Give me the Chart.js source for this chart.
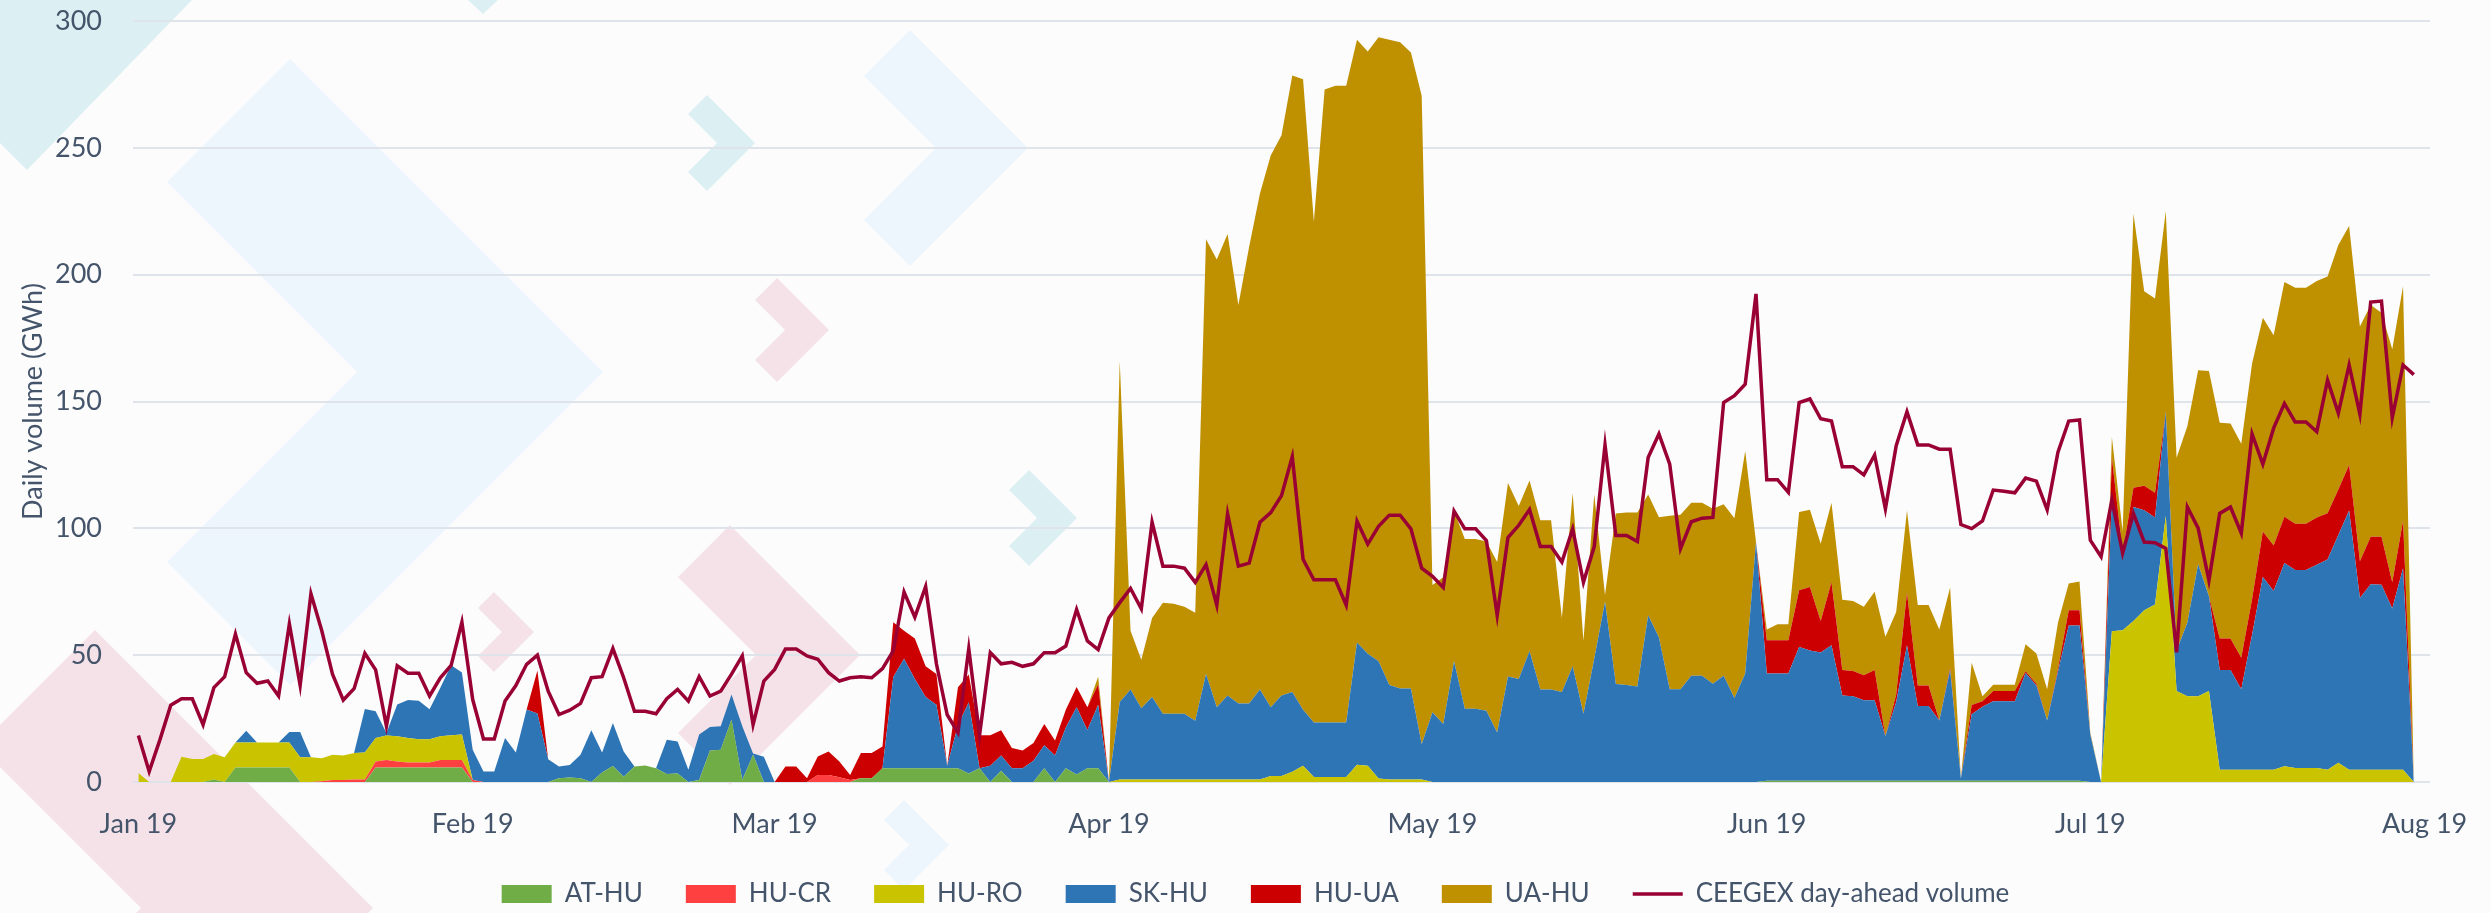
<!DOCTYPE html>
<html><head><meta charset="utf-8">
<script src="https://cdn.jsdelivr.net/npm/chart.js@4.4.1/dist/chart.umd.min.js"></script>
<style>
html,body{margin:0;padding:0;background:#fcfcfc;}
#wrap{position:relative;width:2491px;height:913px;overflow:hidden;background:#fcfcfc;}
#bg{position:absolute;left:0;top:0;}
#c{position:absolute;left:0;top:0;}
</style></head><body>
<div id="wrap">
<svg id="bg" width="2491" height="913" xmlns="http://www.w3.org/2000/svg"></svg>
<canvas id="c" width="2491" height="913"></canvas>
</div>
<script>
// ---- data (daily, 1 Jan 2019 .. 31 Jul 2019) ----
const monthTickDays = [0,31,59,90,120,151,181,212];
const monthTickLabels = ['Jan 19','Feb 19','Mar 19','Apr 19','May 19','Jun 19','Jul 19','Aug 19'];
const seriesNames = ['AT-HU','HU-CR','HU-RO','SK-HU','HU-UA','UA-HU','CEEGEX day-ahead volume'];

const AT_HU = [
0,0,0,0,0,0,0,1,0,5.7,
5.7,5.7,5.7,5.7,5.7,0,0,0,0,0,
0,0,5.7,5.7,5.7,5.7,5.7,5.7,5.7,5.7,
5.7,0,0,0,0,0,0,0,0,1.5,
1.8,1.5,0,3.7,6.3,2.1,6.1,6.5,5.4,3.2,
3.4,0,0.8,12.4,12.7,24.6,0.8,10.7,0,0,
0,0,0,0,0,0,0,1.5,1.5,5.4,
5.4,5.4,5.4,5.4,5.4,5.4,5.4,3.4,5.4,0,
4.4,0,0,0,5.4,0,5.4,3,5.4,5.4,
0,0,0,0,0,0,0,0,0,0,
0,0,0,0,0,0,0,0,0,0,
0,0,0,0,0,0,0,0,0,0,
0,0,0,0,0,0,0,0,0,0,
0,0,0,0,0,0,0,0,0,0,
0,0,0,0,0,0,0,0,0,0,
0,0.5,0.5,0.5,0.5,0.5,0.5,0.5,0.5,0.5,
0.5,0.5,0.5,0.5,0.5,0.5,0.5,0.5,0.5,0.5,
0.5,0.5,0.5,0.5,0.5,0.5,0.5,0.5,0.5,0.5,
0.5,0,0,0,0,0,0,0,0,0,
0,0,0,0,0,0,0,0,0,0,
0,0,0,0,0,0,0,0,0,0,
0,0];

const HU_CR = [
0,0,0,0,0,0,0,0,0,0,
0,0,0,0,0,0,0,0.3,0.8,0.8,
1,1,2.4,3,2.4,2,2,2,3,3,
3,0.8,0,0,0,0,0,0,0,0,
0,0,0,0,0,0,0,0,0,0,
0,0,0,0,0,0,0,0,0,0,
0,0,0,2.8,2.8,1.9,0.8,0,0,0,
0,0,0,0,0,0,0,0,0,0,
0,0,0,0,0,0,0,0,0,0,
0,0,0,0,0,0,0,0,0,0,
0,0,0,0,0,0,0,0,0,0,
0,0,0,0,0,0,0,0,0,0,
0,0,0,0,0,0,0,0,0,0,
0,0,0,0,0,0,0,0,0,0,
0,0,0,0,0,0,0,0,0,0,
0,0,0,0,0,0,0,0,0,0,
0,0,0,0,0,0,0,0,0,0,
0,0,0,0,0,0,0,0,0,0,
0,0,0,0,0,0,0,0,0,0,
0,0,0,0,0,0,0,0,0,0,
0,0,0,0,0,0,0,0,0,0,
0,0];

const HU_RO = [
3.5,0,0,0,10,9.1,9.1,10,9.8,9.9,
9.9,9.9,9.9,9.9,9.9,9.8,9.8,9.1,9.9,9.6,
10.4,10.6,9.2,9.6,9.9,9.6,9.2,9.2,9.3,9.7,
10,0,0,0,0,0,0,0,0,0,
0,0,0,0,0,0,0,0,0,0,
0,0,0,0,0,0,0,0,0,0,
0,0,0,0,0,0,0,0,0,0,
0,0,0,0,0,0,0,0,0,0,
0,0,0,0,0,0,0,0,0,0,
0,1,1,1,1,1,1,1,1,1,
1,1,1,1,1,2.4,2.4,4,6.4,2,
2,2,2,6.8,6.4,1.4,1,1,1,1,
0,0,0,0,0,0,0,0,0,0,
0,0,0,0,0,0,0,0,0,0,
0,0,0,0,0,0,0,0,0,0,
0,0,0,0,0,0,0,0,0,0,
0,0,0,0,0,0,0,0,0,0,
0,0,0,0,0,0,0,0,0,0,
0,0,0,59.4,59.8,63.5,67.7,70,105,35.9,
33.8,33.8,35.9,4.8,4.8,4.8,4.8,4.8,4.8,6.2,
5.5,5.5,5.5,4.8,7.6,4.8,4.8,4.8,4.8,4.8,
4.8,0];

const SK_HU = [
0,0,0,0,0,0,0,0,0,0,
4.6,0,0,0,4.1,9.9,0,0,0,0,
0,17.2,10.6,1,12.6,15,15.1,11.8,19.2,27.6,
24.5,11.9,4.1,4.1,17.3,11.6,28.6,27,9,4.6,
4.9,9.2,20.4,7.9,17,9.9,0,0,0,13.5,
12.6,4.8,17.9,9.3,9.3,9.9,21.2,0.5,10,0,
0,0,0,0,0,0,0,0,0,0,
36,43.2,35.2,28.1,25.1,1,17,28,0,6.4,
6,5.4,5.4,8.4,9.1,10.4,16.1,26.5,15.1,25.1,
0,30.5,35.5,28.1,32.5,25.9,25.9,25.9,23.1,41.6,
28.5,33.1,29.9,29.9,35.5,27.1,31.7,31.5,22.1,21.5,
21.5,21.5,21.5,48.2,44.2,46.2,37.2,35.9,35.9,13.9,
27.5,22.9,47.6,28.9,28.9,28.1,19.5,41.6,40.6,51.6,
36.5,36.5,35.5,45.6,26.9,48.6,71.1,38.6,38.2,37.6,
65.7,57,36.6,36.6,41.9,41.9,38.7,41.9,33.1,42.8,
94.6,42.3,42.3,42.3,52.7,51.3,50.6,53.4,33.6,33.3,
31.7,31.7,17.5,31,53.4,29.5,29.5,23.7,43.7,0.9,
26.2,29.2,31.3,31.3,31.3,42.5,37.5,23.7,43,61.2,
61.2,18.6,0,53.2,27.9,44.9,39.4,34.3,41,15.9,
29,52,37.3,39.4,39.4,31.8,53.2,76,70.5,80.1,
78.1,78.1,80.1,82.9,89.8,102.2,67.7,73.2,73,63.6,
79.5,0];

const HU_UA = [
0,0,0,0,0,0,0,0,0,0,
0,0,0,0,0,0,0,0,0,0,
0,0,0,0,0,0,0,0,0,0,
0,0,0,0,0,0,0,17,0,0,
0,0,0,0,0,0,0,0,0,0,
0,0,0,0,0,0,0,0,0,0,
6.1,6.1,1.5,7.3,9.2,6.2,2,9.9,9.9,8.6,
21.6,11,16,12.1,12.1,0,15,11,13,12,
10,8,7,7,8.4,6,7,8,9,8,
0,0,0,0,0,0,0,0,0,0,
0,0,0,0,0,0,0,0,0,0,
0,0,0,0,0,0,0,0,0,0,
0,0,0,0,0,0,0,0,0,0,
0,0,0,0,0,0,0,0,0,0,
0,0,0,0,0,0,0,0,0,0,
0,13.1,13.1,13.1,22.4,25.1,12.4,24.8,10.1,10,
9.9,12,0,3,20.7,8,8,0,0.7,0,
3.7,2.1,4.1,4.1,4.1,0.7,0.7,0,1,6,
6,0,0,15.2,2.8,7.6,9.7,9.7,0,0,
0,0,0,12.4,12.4,12.4,14,18,17.9,18.3,
18.2,18.2,18.7,18.2,17.9,18,14.5,18.7,18.9,10.3,
18.6,0];

const UA_HU = [
0,0,0,0,0,0,0,0,0,0,
0,0,0,0,0,0,0,0,0,0,
0,0,0,0,0,0,0,0,0,0,
0,0,0,0,0,0,0,0,0,0,
0,0,0,0,0,0,0,0,0,0,
0,0,0,0,0,0,0,0,0,0,
0,0,0,0,0,0,0,0,0,0,
0,0,0,0,0,0,0,0,0,0,
0,0,0,0,0,0,0,0,0,3,
0,134.5,23.1,19.1,31.2,43.8,43.4,42.2,42.6,171.4,
176.5,181.9,157.1,180.1,195.5,217.5,220.9,243,248.5,197.5,
249.5,251,251,237.6,237.4,246,254.4,254.7,250.7,255.6,
50.2,57.8,59.2,66.9,66.9,66.7,67.2,76.3,68.2,67.3,
66.7,66.7,29.2,68.3,28.7,64.7,2.6,67.2,68,68.6,
47.6,47.4,68.4,68.8,68.2,68.2,69,67.6,70.9,87.7,
0,4.2,6.3,6.3,30.8,30.4,30.4,31.4,27.6,27.6,
27,30.8,39.3,32.5,32.4,31.8,31.8,35.9,31.8,0,
16.6,2,2.4,2.4,2.4,10.6,12,12.4,18.3,10.6,
11.3,0.9,0,8.2,8.3,108,76.7,76.6,79,76,
77.4,76.5,88.8,85,84.7,84.3,93,84.2,82.9,92.5,
93,93,93.2,93.4,96.4,94.2,92.6,91.3,88.3,91.9,
92.5,0];

const CEEGEX = [
18.3,4.1,16.7,30.3,32.8,32.8,22.6,37.2,41.5,58.3,
43.1,38.9,39.8,33.9,62.3,38.1,74.2,59.7,42.5,32.3,
36.8,50.7,44.2,22,45.8,42.9,42.9,33.9,41.1,46,
63,32.5,17,17,31.9,38,46.4,50,35.8,26.6,
28.3,31,41.1,41.5,52.6,41.1,27.9,27.9,26.9,32.8,
36.5,31.9,41.5,33.9,35.8,42.5,49.7,22.6,39.8,44.4,
52.4,52.4,49.7,48.4,43.1,39.8,41.1,41.5,41.1,44.7,
51.7,74.9,65,77,46.6,26.5,19.5,52.6,18.5,51,
46.6,47.2,45.6,46.6,51,51,53.6,68,55.6,52.2,
64.7,70.7,76.3,68.3,102.4,85.1,85.1,84.3,78.7,85.7,
69.7,105.8,85.1,86.3,102.4,106.2,112.9,128.3,87.8,79.7,
79.7,79.7,69.7,102.8,93.8,100.8,105.2,105.2,99.8,84.3,
81.1,76.7,106.8,99.8,99.8,95.2,65.7,96.4,101.2,107.4,
92.8,92.8,86.7,99.8,78.7,92.8,132.9,97.2,97.2,94.8,
127.9,137.2,125.3,92,102.6,104,104.3,149.6,152.3,156.8,
192.4,119.2,119.2,114.2,149.6,151,143.2,142.3,124.3,124.3,
121.1,128.9,107.7,132.6,146,132.9,132.9,131.2,131.2,101.5,
99.9,102.9,115.1,114.6,114,119.8,118.6,107.3,130,142.3,
142.7,95.3,88.8,111.2,90.2,105.9,94.6,94.3,92.1,51.1,
108.4,100.1,79.4,105.9,108.4,98.1,137.2,125.3,139.5,149.2,
141.9,141.9,138.1,158.4,145.4,164.4,145,189.2,189.6,143.6,
164.4,160.6];

const dayIndex = CEEGEX.map((v, i) => i); // x position: days since 1 Jan 2019

// ---- decorative background chevrons ----
(function () {
  const svg = document.getElementById('bg');
  const NS = 'http://www.w3.org/2000/svg';
  function poly(pts, col) {
    const p = document.createElementNS(NS, 'polygon');
    p.setAttribute('points', pts.map(q => q.join(',')).join(' '));
    p.setAttribute('fill', col);
    svg.appendChild(p);
  }
  function chev(tx, ty, L, c, col) {
    poly([[tx-L,ty-L],[tx,ty],[tx-L,ty+L],[tx-L-c,ty+L-c],[tx-2*c,ty],[tx-L-c,ty-L+c]], col);
  }
  const blue = '#edf5fd', cyan = '#dcf0f4', pink = '#f4e2e8';
  poly([[0,0],[192,0],[27,170],[0,143]], cyan);
  poly([[468,0],[498,0],[483,14]], cyan);
  chev(603, 372, 313, 123, blue);
  chev(1028, 148, 118, 46, blue);
  chev(755, 143, 48, 19, cyan);
  chev(1077, 518, 48, 20, cyan);
  chev(373, 908, 278, 116, pink);
  chev(860, 655, 130, 52, pink);
  chev(534, 632, 40, 16, pink);
  chev(829, 330, 52, 22, pink);
  chev(949, 845, 45, 20, blue);
})();

// ---- chart ----
Chart.defaults.font.family = "Lato, 'Open Sans', sans-serif";
const TXT = '#44546a';
const colors = ['#70ad47', '#ff4040', '#c9c300', '#2e75b6', '#cc0000', '#bf9000'];
const areaData = [AT_HU, HU_CR, HU_RO, SK_HU, HU_UA, UA_HU];

const datasets = areaData.map((d, i) => ({
  label: seriesNames[i],
  data: d,
  backgroundColor: colors[i],
  borderColor: 'rgba(0,0,0,0)',
  borderWidth: 0,
  pointRadius: 0,
  pointHoverRadius: 0,
  pointBorderWidth: 0,
  pointStyle: 'rect',
  fill: i === 0 ? 'origin' : '-1',
  tension: 0,
  order: 1
}));
datasets.push({
  label: seriesNames[6],
  data: CEEGEX,
  stack: 'ceegex',
  borderColor: '#990033',
  backgroundColor: '#990033',
  borderWidth: 3.5,
  pointRadius: 0,
  pointHoverRadius: 0,
  pointBorderWidth: 3.5,
  pointStyle: 'line',
  fill: false,
  tension: 0,
  order: -1
});

new Chart(document.getElementById('c'), {
  type: 'line',
  data: { labels: dayIndex, datasets },
  options: {
    responsive: false,
    animation: false,
    layout: { padding: { left: 20, right: 0, top: 21, bottom: 0 } },
    plugins: {
      tooltip: { enabled: false },
      legend: {
        position: 'bottom',
        maxHeight: 75,
        labels: {
          usePointStyle: true,
          pointStyleWidth: 50,
          boxHeight: 18,
          padding: 43,
          color: TXT,
          font: { size: 26 },
          sort: (a, b) => a.datasetIndex - b.datasetIndex
        }
      }
    },
    scales: {
      x: {
        type: 'linear',
        min: -0.5,
        max: 212.5,
        grid: { display: false, drawTicks: false },
        border: { display: false },
        afterBuildTicks: (s) => { s.ticks = monthTickDays.map(v => ({ value: v })); },
        afterFit: (s) => { s.height = 56; s.paddingLeft = 0; s.paddingRight = 0; },
        ticks: {
          autoSkip: false,
          maxRotation: 0,
          padding: 29,
          color: TXT,
          font: { size: 27, lineHeight: 1 },
          callback: (v) => { const i = monthTickDays.indexOf(v); return i >= 0 ? monthTickLabels[i] : ''; }
        }
      },
      y: {
        stacked: true,
        min: 0,
        max: 300,
        grid: { color: '#dfe3ea', lineWidth: 2, drawTicks: false },
        border: { display: false },
        afterFit: (s) => { s.width = 113; s.paddingTop = 0; s.paddingBottom = 0; },
        ticks: { stepSize: 50, padding: 31, color: TXT, font: { size: 27 } },
        title: { display: true, text: 'Daily volume (GWh)', color: TXT, font: { size: 27, lineHeight: 1 }, padding: { top: 0, bottom: 10 } }
      },
      y2: {
        position: 'right',
        min: 0,
        max: 300,
        grid: { display: false, drawTicks: false },
        border: { display: false },
        ticks: { display: false },
        afterFit: (s) => { s.width = 61; s.paddingTop = 0; s.paddingBottom = 0; }
      }
    }
  }
});
</script>
</body></html>
